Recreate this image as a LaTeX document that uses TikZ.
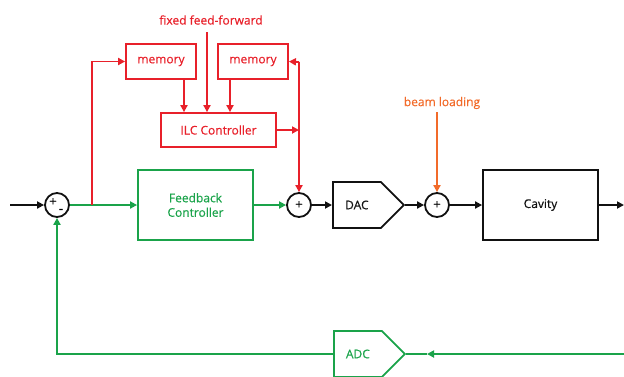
\documentclass[tikz,border=0pt]{standalone}
\usepackage{fontspec}
\setmainfont{Open Sans}
\newfontfamily\lblfont{Open Sans}[FakeBold=0.4]
\usetikzlibrary{arrows.meta,shapes.symbols}
\definecolor{ilcred}{HTML}{E8202A}
\definecolor{fbgreen}{HTML}{1AA34A}
\definecolor{blorange}{HTML}{F26B2A}
\definecolor{dark}{HTML}{111111}
\begin{document}
\begin{tikzpicture}[x=1pt,y=-1pt, line width=1.8pt,
  >={Triangle[length=7pt,width=7pt]},
  every node/.style={font=\lblfont\fontsize{12}{14.5}\selectfont},
  box/.style={draw, rectangle, inner sep=0pt, align=center},
  sumnode/.style={draw=dark, circle, minimum size=24pt, inner sep=0pt},
  conv/.style={draw, signal, signal to=east, signal pointer angle=90, minimum width=71pt, minimum height=46pt, inner sep=0pt, anchor=west},
  sign/.style={inner sep=0pt, font=\lblfont\fontsize{13}{13}\selectfont}]
\useasboundingbox (0,0) rectangle (624,376);

% main path nodes
\node[sumnode] (s1) at (57,205) {};
\node[sign] (s1p) at (53,202) {+};
\node[sign] (s1m) at (61,211) {-};
\node[box, draw=fbgreen, text=fbgreen, minimum width=115pt, minimum height=70pt] (fb) at (195.5,205) {Feedback\\Controller};
\node[sumnode] (s2) at (299,205) {};
\node[sign] (s2p) at (299,205) {+};
\node[conv, draw=dark, text=dark] (dac) at (332,205) {DAC};
\node[sumnode] (s3) at (437,205) {};
\node[sign] (s3p) at (437,205) {+};
\node[box, draw=dark, text=dark, minimum width=115pt, minimum height=70pt] (cav) at (540.5,205) {Cavity};
\node[conv, draw=fbgreen, text=fbgreen] (adc) at (333,354) {ADC};

% ILC part
\node[box, draw=ilcred, text=ilcred, minimum width=70pt, minimum height=35pt] (mem1) at (161,61.5) {memory};
\node[box, draw=ilcred, text=ilcred, minimum width=70pt, minimum height=35pt] (mem2) at (253,61.5) {memory};
\node[box, draw=ilcred, text=ilcred, minimum width=115pt, minimum height=34pt] (ilc) at (218.5,130) {ILC Controller};
\node[text=ilcred, inner sep=0pt] (ffw) at (211,20) {fixed feed-forward};
\node[text=blorange, inner sep=0pt] (bl) at (442,103) {beam loading};

% coordinates
\coordinate (in) at (10,205);
\coordinate (out) at (624,205);
\coordinate (br1) at (92,205);
\coordinate (fbk) at (299,62);
\coordinate (ffin) at (207,32);
\coordinate (blin) at (437,112);
\coordinate (m1o) at ([xshift=23pt]mem1.south);
\coordinate (m2o) at ([xshift=-23pt]mem2.south);
\coordinate (adcin) at (624,354);
\coordinate (adcm) at (427,354);

% black connectors
\draw[dark,->] (in) -- (s1);
\draw[dark,->] (s2) -- (dac.west);
\draw[dark,->] (dac.east) -- (s3);
\draw[dark,->] (s3) -- (cav);
\draw[dark,->] (cav) -- (out);

% green connectors
\draw[fbgreen,->] (s1) -- (fb);
\draw[fbgreen,->] (fb) -- (s2);
\draw[fbgreen,->] (adcin) -- (adcm);
\draw[fbgreen] (adcm) -- (adc.east);
\draw[fbgreen,->] (adc.west) -| (s1.south);

% red connectors
\draw[ilcred,->] (br1) |- (mem1.west);
\draw[ilcred,->] (fbk) -- (mem2.east);
\draw[ilcred,->] (fbk) -- (s2);
\draw[ilcred,->] (ilc.east) -- (ilc.east -| fbk);
\draw[ilcred,->] (ffin) -- (ffin |- ilc.north);
\draw[ilcred,->] (m1o) -- (m1o |- ilc.north);
\draw[ilcred,->] (m2o) -- (m2o |- ilc.north);

% orange
\draw[blorange,->] (blin) -- (s3);
\end{tikzpicture}
\end{document}
